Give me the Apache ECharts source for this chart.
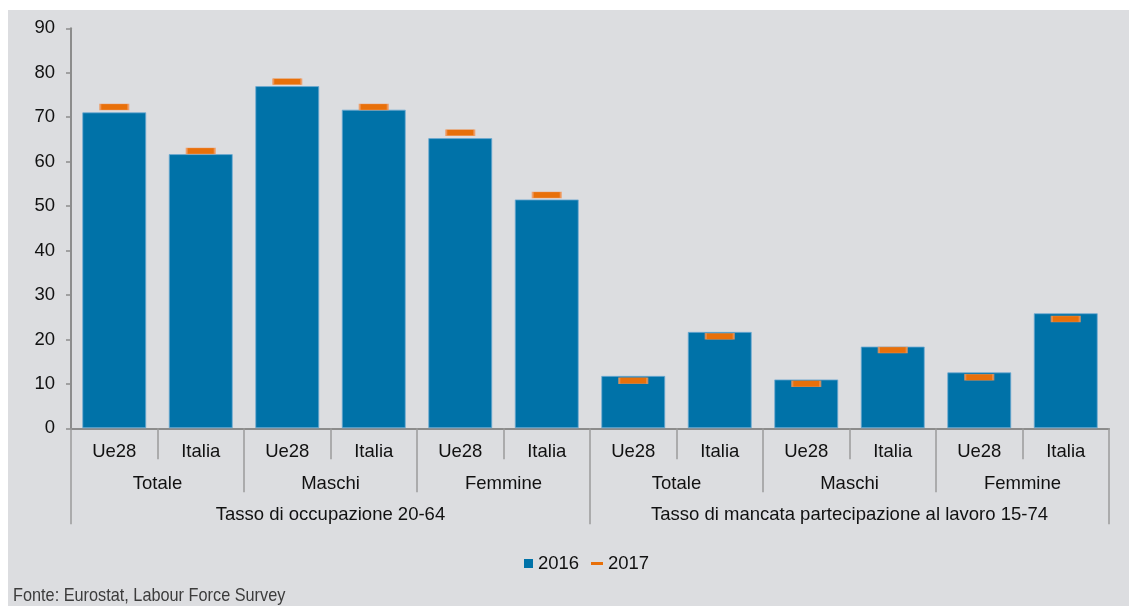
<!DOCTYPE html>
<html>
<head>
<meta charset="utf-8">
<script src="https://cdn.jsdelivr.net/npm/echarts@6/dist/echarts.min.js"></script>
<style>
html,body{margin:0;padding:0;background:#ffffff;width:1129px;height:606px;overflow:hidden;}
#chart{position:absolute;left:8px;top:10px;width:1121px;height:596px;background:#dcdde0;}
</style>
</head>
<body>
<div id="chart"></div>
<script>
// ---- data ----
const subCategories = ['Ue28','Italia','Ue28','Italia','Ue28','Italia','Ue28','Italia','Ue28','Italia','Ue28','Italia'];
const midCategories = ['Totale','Maschi','Femmine','Totale','Maschi','Femmine'];
const topCategories = ['Tasso di occupazione 20-64','Tasso di mancata partecipazione al lavoro 15-74'];
const values2016 = [71.1, 61.7, 77.0, 71.7, 65.3, 51.5, 11.8, 21.7, 11.0, 18.4, 12.6, 25.9];
const values2017 = [72.3, 62.4, 78.0, 72.3, 66.5, 52.5, 10.7, 20.7, 10.0, 17.6, 11.5, 24.6];
const yTicks = [0, 10, 20, 30, 40, 50, 60, 70, 80, 90];
const sourceNote = 'Fonte: Eurostat, Labour Force Survey';

const FONT = 'Liberation Sans';
const FS = 18.5;
const chart = echarts.init(document.getElementById('chart'), null, {renderer: 'canvas'});

const catAxisBase = {
  type: 'category',
  gridIndex: 0,
  position: 'bottom',
  boundaryGap: true,
  axisLine: {show: false},
  splitLine: {show: false}
};

chart.setOption({
  backgroundColor: 'transparent',
  animation: false,
  grid: {left: 63, right: 20, top: 18.3, bottom: 177.7, containLabel: false},
  legend: [
    {
      data: ['2016'], left: 511, top: 539, itemWidth: 9, itemHeight: 9, icon: 'rect',
      itemStyle: {borderWidth: 0},
      textStyle: {fontSize: FS, color: '#111111', fontFamily: FONT}
    },
    {
      data: ['2017'], left: 578, top: 539, itemWidth: 12, itemHeight: 3, icon: 'rect',
      itemStyle: {borderWidth: 0},
      textStyle: {fontSize: FS, color: '#111111', fontFamily: FONT}
    }
  ],
  xAxis: [
    Object.assign({}, catAxisBase, {
      data: subCategories,
      axisLine: {show: true, lineStyle: {color: '#8c8c8c', width: 2}},
      axisTick: {show: true, interval: 0, length: 31, lineStyle: {color: '#9a9a9a', width: 1.5}},
      axisLabel: {interval: 0, margin: 14, color: '#111111', fontSize: FS, fontFamily: FONT}
    }),
    Object.assign({}, catAxisBase, {
      data: midCategories,
      axisTick: {show: true, interval: 0, length: 64, lineStyle: {color: '#9a9a9a', width: 1.5}},
      axisLabel: {interval: 0, margin: 46, color: '#111111', fontSize: FS, fontFamily: FONT}
    }),
    Object.assign({}, catAxisBase, {
      data: topCategories,
      axisTick: {show: true, interval: 0, length: 96, lineStyle: {color: '#9a9a9a', width: 1.5}},
      axisLabel: {interval: 0, margin: 77, color: '#111111', fontSize: FS, fontFamily: FONT}
    })
  ],
  yAxis: {
    type: 'value',
    min: yTicks[0],
    max: yTicks[yTicks.length - 1],
    interval: yTicks[1] - yTicks[0],
    axisLine: {show: true, lineStyle: {color: '#8c8c8c', width: 2}},
    axisTick: {show: true, length: 5, lineStyle: {color: '#8c8c8c', width: 1.5}},
    axisLabel: {margin: 16, color: '#111111', fontSize: FS, fontFamily: FONT},
    splitLine: {show: false}
  },
  series: [
    {
      name: '2016',
      type: 'bar',
      xAxisIndex: 0,
      data: values2016,
      barCategoryGap: '26%',
      itemStyle: {color: '#0072a8', borderColor: 'rgba(110,170,210,0.8)', borderWidth: 1}
    },
    {
      name: '2017',
      type: 'scatter',
      xAxisIndex: 0,
      data: values2017,
      symbol: 'rect',
      symbolSize: [28, 6],
      z: 5,
      itemStyle: {color: '#e8700a', borderColor: 'rgba(240,150,90,0.8)', borderWidth: 1, opacity: 1}
    }
  ],
  graphic: [
    {
      type: 'text',
      x: 5,
      y: 576,
      scaleX: 0.88,
      originX: 0,
      style: {
        text: sourceNote,
        fill: '#3c3c3c',
        font: '18.5px Liberation Sans'
      }
    }
  ]
});
</script>
</body>
</html>
